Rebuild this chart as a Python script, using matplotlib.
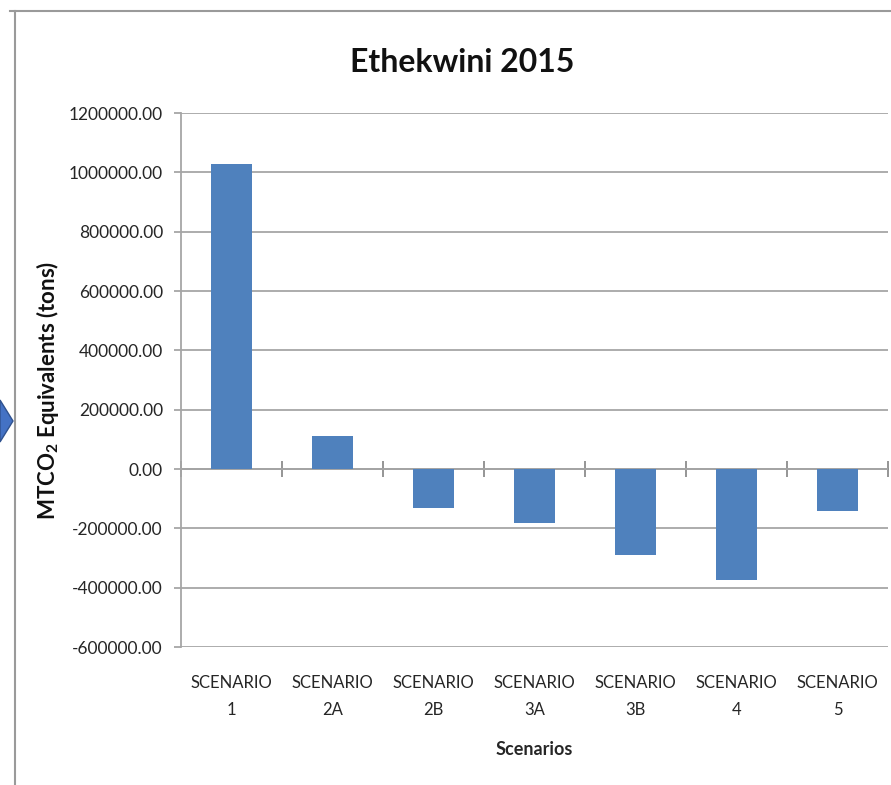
import matplotlib.pyplot as plt
from matplotlib.lines import Line2D
from matplotlib.patches import Polygon
from matplotlib.ticker import FuncFormatter

plt.rcParams["font.family"] = ["Lato", "DejaVu Sans"]
plt.rcParams["mathtext.fontset"] = "custom"
plt.rcParams["mathtext.rm"] = "Lato"
plt.rcParams["mathtext.bf"] = "Lato:bold"

# ---- data ----
scenarios = ["SCENARIO\n1", "SCENARIO\n2A", "SCENARIO\n2B", "SCENARIO\n3A",
             "SCENARIO\n3B", "SCENARIO\n4", "SCENARIO\n5"]
emissions = [1027000, 112000, -132000, -183000, -289000, -374000, -141000]
y_ticks = [-600000, -400000, -200000, 0, 200000, 400000, 600000,
           800000, 1000000, 1200000]

BAR_COLOR = "#4F81BD"
GRID_COLOR = "#a6a6a6"
TEXT_COLOR = "#262626"

W, H = 891, 785
fig = plt.figure(figsize=(W / 100, H / 100), dpi=100)
ax = fig.add_axes([181 / W, 1 - 647 / H, 707 / W, 534 / H])

x = list(range(len(scenarios)))
ax.bar(x, emissions, width=0.4, color=BAR_COLOR, zorder=3)

ax.set_xlim(-0.5, len(scenarios) - 0.5)
ax.set_ylim(y_ticks[0], y_ticks[-1])
ax.set_yticks(y_ticks)
ax.yaxis.set_major_formatter(FuncFormatter(lambda v, p: f"{v:.2f}"))
ax.grid(axis="y", color=GRID_COLOR, linewidth=1.3, zorder=0)

ax.set_xticks(x)
ax.set_xticklabels(scenarios, fontsize=12, color=TEXT_COLOR, linespacing=1.9)
ax.tick_params(axis="x", length=0, pad=20)
ax.tick_params(axis="y", length=5, color=GRID_COLOR, width=1.3,
               labelsize=12.5, labelcolor=TEXT_COLOR, pad=8)

for side in ["top", "right", "bottom"]:
    ax.spines[side].set_visible(False)
ax.spines["left"].set_color(GRID_COLOR)
ax.spines["left"].set_linewidth(1.3)

# horizontal axis at zero with cross tick marks
zero_frac = (0 - y_ticks[0]) / (y_ticks[-1] - y_ticks[0])
sec = ax.secondary_xaxis(zero_frac)
sec.set_xticks([i - 0.5 for i in range(len(scenarios) + 1)])
sec.set_xticklabels([])
sec.tick_params(direction="inout", length=12, color="#8c8c8c", width=1.3)
sec.spines["bottom"].set_color("#8c8c8c")
sec.spines["bottom"].set_linewidth(1.3)

fig.text(462 / W, 1 - 62 / H, "Ethekwini 2015", fontsize=23,
         fontweight="bold", color="#111111", ha="center", va="center")
ax.set_xlabel("Scenarios", fontsize=13, fontweight="bold",
              color=TEXT_COLOR, labelpad=16)
ax.set_ylabel(r"MTCO$_\mathbf{2}$ Equivalents (tons)", fontsize=16,
              fontweight="bold", color="#111111")
ax.yaxis.set_label_coords(-0.17, 0.48)

# chart frame and the arrow shape on the left
fig.add_artist(Line2D([15 / W, 15 / W], [0, 1 - 11 / H],
                      transform=fig.transFigure, color="#9a9a9a", lw=1.5))
fig.add_artist(Line2D([10 / W, 1], [1 - 11 / H, 1 - 11 / H],
                      transform=fig.transFigure, color="#9a9a9a", lw=1.5))
fig.add_artist(Polygon([(0, 1 - 400 / H), (13 / W, 1 - 421 / H), (0, 1 - 442 / H)],
                       closed=True, transform=fig.transFigure,
                       facecolor="#4472C4", edgecolor="#2F528F", lw=1))

plt.savefig("out.png", dpi=100)
